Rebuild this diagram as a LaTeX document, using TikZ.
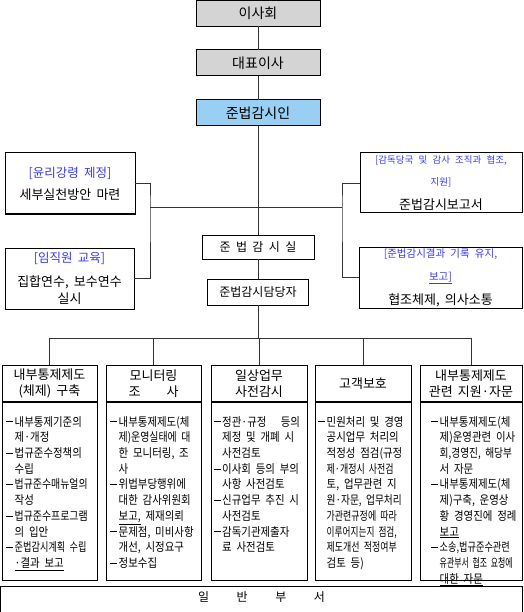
\documentclass[tikz,border=0pt]{standalone}
\usepackage{fontspec}
\usepackage{graphicx}
\usepackage{xcolor}
\usetikzlibrary{positioning}
\newfontfamily\kr{Noto Sans CJK KR}
\newfontfamily\krn{Noto Sans CJK KR}[FakeStretch=0.87]
\definecolor{Board}{HTML}{D4D4D4}
\definecolor{Sky}{HTML}{99CFF2}
\definecolor{Note}{HTML}{3A3AF5}
\definecolor{Wire}{HTML}{333333}
\newcommand\dsh{\rule[4pt]{7pt}{0.7pt}\hspace{1.5pt}}
\newcommand\ind{\hphantom{\dsh}}
\newcommand\nar[2]{\scalebox{#1}[1]{#2}}
\newcommand\note[1]{\textcolor{Note}{#1}}
\protected\def\widesp{\spaceskip=0.45em\relax}
\protected\def\bodysp{\spaceskip=0.4em\relax}
\tikzset{
  leadbox/.style={draw=black,line width=1pt,fill=Board,minimum width=124pt,minimum height=26pt,inner sep=0pt,outer sep=0pt,font=\kr\fontsize{14}{16}\selectfont},
  deptbox/.style={draw=black,line width=1pt,fill=white,inner sep=0pt,outer sep=0pt,font=\kr\fontsize{12}{14}\selectfont\widesp},
  sidebox/.style={draw=black,line width=1pt,fill=white,align=center,inner sep=0pt,outer sep=0pt,font=\kr\fontsize{13}{17}\selectfont\bodysp},
  headbox/.style={draw=black,line width=1pt,minimum height=37pt,align=center,inner sep=0pt,outer sep=0pt,font=\kr\fontsize{13}{16}\selectfont\bodysp},
  bodybox/.style={draw=black,line width=1pt,minimum height=178pt,inner sep=0pt,outer sep=0pt},
  dutytext/.style={anchor=north west,align=left,inner sep=0pt,font=\krn\fontsize{12}{15.7}\selectfont\bodysp},
  genbox/.style={draw=black,line width=1pt,inner sep=0pt,outer sep=0pt,font=\kr\fontsize{12}{14}\selectfont},
  wire/.style={draw=Wire,line width=0.8pt},
  divider/.style={draw=black,line width=2.2pt}
}
\begin{document}
\begin{tikzpicture}[x=1pt,y=-1pt]
  \path[use as bounding box,fill=white] (0,0) rectangle (523,612);
  % chain of command
  \node[leadbox] (board) at (258,13.5) {이사회};
  \node[leadbox] (ceo) at (258,63) {대표이사};
  \node[leadbox,fill=Sky] (officer) at (258,113) {준법감시인};
  % compliance office
  \node[deptbox,minimum width=112pt,minimum height=24pt] (office) at (258,247) {준 법 감 시 실};
  \node[deptbox,minimum width=101pt,minimum height=26pt] (staff) at (258,292) {준법감시담당자};
  % side duties
  \node[sidebox,minimum width=130pt,minimum height=61pt] (ethics) at (70,183.5)
    {\note{\fontsize{12.5}{17}\selectfont[윤리강령 제정]}\\[5pt]세부실천방안 마련};
  \node[sidebox,minimum width=129pt,minimum height=61pt] (edu) at (69.5,278.5)
    {\note{\fontsize{12.5}{17}\selectfont[임직원 교육]}\\[7pt]집합연수, 보수연수\\실시};
  \node[sidebox,minimum width=162pt,minimum height=60pt] (audit) at (441,183)
    {\note{\fontsize{9.5}{17}\selectfont[감독당국 및 감사 조직과 협조,}\\[5pt]\note{\fontsize{9.5}{17}\selectfont 지원]}\\[7pt]준법감시보고서};
  \node[sidebox,minimum width=163pt,minimum height=61pt] (record) at (440.5,277.5)
    {\note{\fontsize{10.5}{17}\selectfont[준법감시결과 기록 유지,}\\[6pt]\note{\fontsize{10.5}{17}\selectfont\underline{보고]}}\\[7pt]협조체제, 의사소통};
  \coordinate (lhub) at (150,207);
  \coordinate (rhub) at (342,207);
  \coordinate (bus) at (258,338);
  % connectors
  \draw[wire] (board) -- (ceo);
  \draw[wire] (ceo) -- (officer);
  \draw[wire] (officer) -- (office);
  \draw[wire] (lhub) -- (rhub);
  \draw[wire] (ethics.east) -| (lhub) |- (edu.east);
  \draw[wire] (audit.west) -| (rhub) |- (record.west);
  \draw[wire] (office) -- (staff);
  % task columns
  \node[headbox,minimum width=95pt] (hd1) at (49.5,383.5) {내부통제제도\\(체제) 구축};
  \node[headbox,minimum width=95pt] (hd2) at (153.5,383.5) {모니터링\\조\hspace{2em}사};
  \node[headbox,minimum width=96pt] (hd3) at (259,383.5) {일상업무\\사전감시};
  \node[headbox,minimum width=96pt] (hd4) at (363,383.5) {고객보호};
  \node[headbox,minimum width=102pt] (hd5) at (471,383.5) {내부통제제도\\관련 지원·자문};
  \node[bodybox,minimum width=95pt,below=0pt of hd1] (bd1) {};
  \node[bodybox,minimum width=95pt,below=0pt of hd2] (bd2) {};
  \node[bodybox,minimum width=96pt,below=0pt of hd3] (bd3) {};
  \node[bodybox,minimum width=96pt,below=0pt of hd4] (bd4) {};
  \node[bodybox,minimum width=102pt,below=0pt of hd5] (bd5) {};
  \draw[divider] (hd1.south west) -- (hd1.south east);
  \draw[divider] (hd2.south west) -- (hd2.south east);
  \draw[divider] (hd3.south west) -- (hd3.south east);
  \draw[divider] (hd4.south west) -- (hd4.south east);
  \draw[divider] (hd5.south west) -- (hd5.south east);
  \node[dutytext] (tx1) at ([xshift=4pt,yshift=-14pt]bd1.north west) {%
    \dsh 내부통제기준의\\
    \ind 제·개정\\
    \dsh 법규준수정책의\\
    \ind 수립\\
    \dsh\nar{0.95}{법규준수매뉴얼의}\\
    \ind 작성\\
    \dsh\nar{0.95}{법규준수프로그램}\\
    \ind 의 입안\\
    \dsh\nar{0.88}{준법감시계획 수립}\\
    \ind\underline{·결과 보고}};
  \node[dutytext] (tx2) at ([xshift=4pt,yshift=-14pt]bd2.north west) {%
    \dsh 내부통제제도(체\\
    \ind\nar{0.95}{제)운영실태에 대}\\
    \ind 한 모니터링, 조\\
    \ind 사\\
    \dsh 위법부당행위에\\
    \ind 대한 감사위원회\\
    \ind\underline{보고,} 제재의뢰\\
    \dsh 문제점, 미비사항\\
    \ind 개선, 시정요구\\
    \dsh 정보수집};
  \node[dutytext] (tx3) at ([xshift=2.5pt,yshift=-14pt]bd3.north west) {%
    \dsh 정관·규정\hspace{1.2em}등의\\
    \ind 제정 및 개폐 시\\
    \ind 사전검토\\
    \dsh 이사회 등의 부의\\
    \ind 사항 사전검토\\
    \dsh 신규업무 추진 시\\
    \ind 사전검토\\
    \dsh 감독기관제출자\\
    \ind 료 사전검토};
  \node[dutytext] (tx4) at ([xshift=3pt,yshift=-14pt]bd4.north west) {%
    \dsh 민원처리 및 경영\\
    \ind 공시업무 처리의\\
    \ind 적정성 점검(규정\\
    \ind\nar{0.86}{제·개정시 사전검}\\
    \ind 토, 업무관련 지\\
    \ind\nar{0.93}{원·자문, 업무처리}\\
    \ind\nar{0.86}{가관련규정에 따라}\\
    \ind\nar{0.83}{이루어지는지 점검,}\\
    \ind\nar{0.86}{제도개선 적정여부}\\
    \ind 검토 등)};
  \node[dutytext] (tx5) at ([xshift=11pt,yshift=-14pt]bd5.north west) {%
    \dsh 내부통제제도(체\\
    \ind 제)운영관련 이사\\
    \ind\nar{0.93}{회,경영진, 해당부}\\
    \ind 서 자문\\
    \dsh 내부통제제도(체\\
    \ind 제)구축, 운영상\\
    \ind 황 경영진에 정례\\
    \ind\underline{보고}\\
    \dsh\nar{0.88}{소송,법규준수관련}\\
    \ind\nar{0.76}{유관부서 협조 요청에}\\
    \ind\underline{대한 자문}};
  % drop lines to the columns
  \draw[wire] (staff.south) -- (bus);
  \draw[wire] (hd1.north |- bus) -- (hd5.north |- bus);
  \draw[wire] (hd1.north |- bus) -- (hd1.north);
  \draw[wire] (hd2.north |- bus) -- (hd2.north);
  \draw[wire] (hd3.north |- bus) -- (hd3.north);
  \draw[wire] (hd4.north |- bus) -- (hd4.north);
  \draw[wire] (hd5.north |- bus) -- (hd5.north);
  % general departments
  \node[genbox,anchor=north,minimum width=522pt,minimum height=34pt] (general) at (261.5,586)
    {\raisebox{1.5pt}[0pt][0pt]{일\hspace{2.3em}반\hspace{2.3em}부\hspace{2.3em}서}};
\end{tikzpicture}
\end{document}
